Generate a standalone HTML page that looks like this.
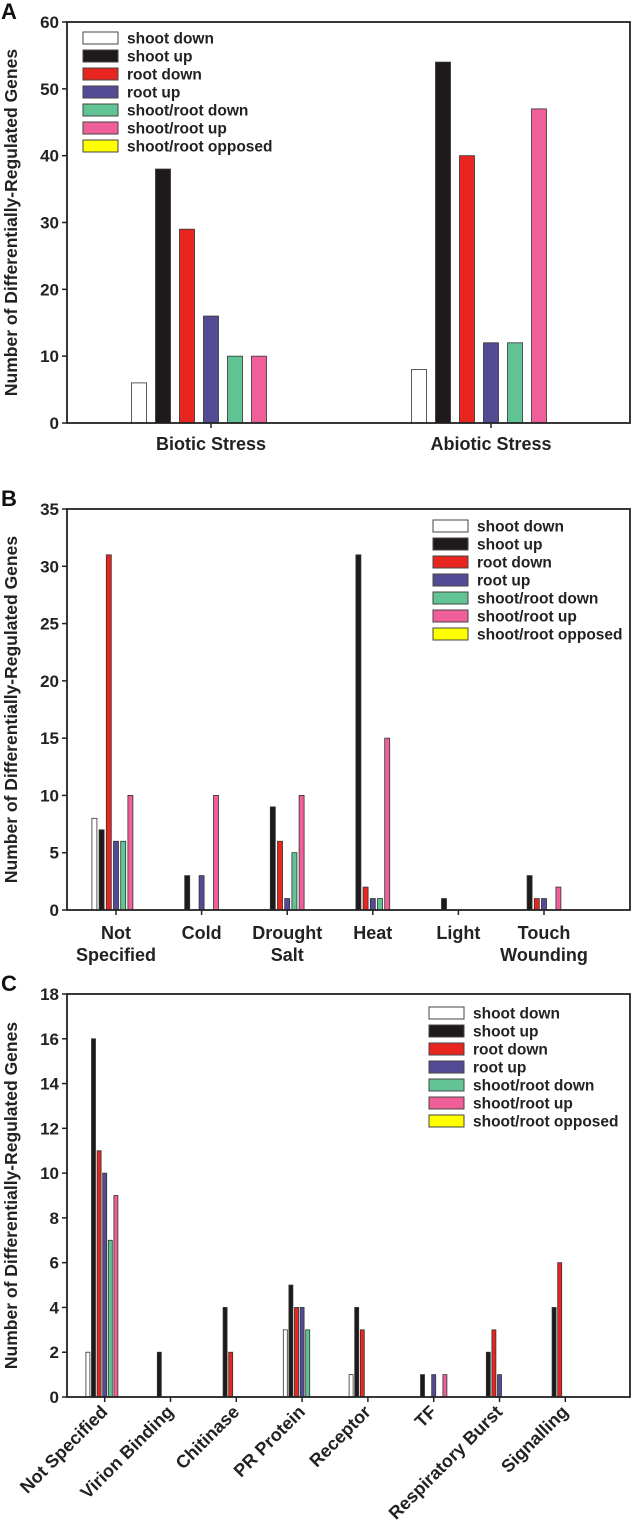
<!DOCTYPE html>
<html><head><meta charset="utf-8"><style>
body{margin:0;background:#fff;}
svg{display:block;font-family:"Liberation Sans",Arial,sans-serif;}
</style></head><body>
<svg id="fig" width="636" height="1533" viewBox="0 0 636 1533"></svg>
<script>
const seriesNames=["shoot down","shoot up","root down","root up","shoot/root down","shoot/root up","shoot/root opposed"];
const seriesColors=["#ffffff","#1e1a1a","#e8261f","#534b94","#62c495","#f05f9a","#ffff00"];
// Panel A
const catsA=["Biotic Stress","Abiotic Stress"];
const valsA=[[6,8],[38,54],[29,40],[16,12],[10,12],[10,47],[0,0]];
const ticksA=[0,10,20,30,40,50,60];
// Panel B
const catsB=[["Not","Specified"],["Cold"],["Drought","Salt"],["Heat"],["Light"],["Touch","Wounding"]];
const valsB=[[8,0,0,0,0,0],[7,3,9,31,1,3],[31,0,6,2,0,1],[6,3,1,1,0,1],[6,0,5,1,0,0],[10,10,10,15,0,2],[0,0,0,0,0,0]];
const ticksB=[0,5,10,15,20,25,30,35];
// Panel C
const catsC=["Not Specified","Virion Binding","Chitinase","PR Protein","Receptor","TF","Respiratory Burst","Signalling"];
const valsC=[[2,0,0,3,1,0,0,0],[16,2,4,5,4,1,2,4],[11,0,2,4,3,0,3,6],[10,0,0,4,0,1,1,0],[7,0,0,3,0,0,0,0],[9,0,0,0,0,1,0,0],[0,0,0,0,0,0,0,0]];
const ticksC=[0,2,4,6,8,10,12,14,16,18];

const svg=document.getElementById('fig');
const NS="http://www.w3.org/2000/svg";
function mk(tag,attrs,parent){const e=document.createElementNS(NS,tag);for(const k in attrs)e.setAttribute(k,attrs[k]);(parent||svg).appendChild(e);return e;}

function panel(o){
  const g=mk('g',{});
  
  
  const y=v=>o.y0-(v/o.ymax)*(o.y0-o.ytop);
  const cx=i=>o.c0+i*o.cs;
  const L=mk('text',{x:1,y:o.ytop-3,'font-size':22,'font-weight':'bold',fill:'#111'},g);L.textContent=o.id;
  
  
  for(let s=0;s<o.vals.length;s++){
    for(let c=0;c<o.cats.length;c++){
      const v=o.vals[s][c]; if(v<=0) continue;
      const x=cx(c)+(s-3)*o.bs-o.bw/2;
      const r=mk('rect',{x:x,y:y(v),width:o.bw,height:y(0)-y(v),fill:seriesColors[s],stroke:'#333','stroke-width':0.8},g);
      
      
    }
  }
  const f=mk('rect',{x:o.xl,y:o.ytop,width:o.xr-o.xl,height:o.y0-o.ytop,fill:'none',stroke:'#222','stroke-width':1.8},g);
  
  
  o.ticks.forEach(t=>{
    mk('line',{x1:o.xl-5,x2:o.xl,y1:y(t),y2:y(t),stroke:'#222','stroke-width':1.5},g);
    const tx=mk('text',{x:o.xl-8,y:y(t)+6,'text-anchor':'end','font-size':17,'font-weight':'bold',fill:'#222'},g);tx.textContent=t;
    
    
  });
  o.cats.forEach((c,i)=>{
    mk('line',{x1:cx(i),x2:cx(i),y1:o.y0,y2:o.y0+5,stroke:'#222','stroke-width':1.5},g);
    if(o.rot){
      const tx=mk('text',{x:cx(i)+4,y:o.y0+16,'text-anchor':'end','font-size':18,'font-weight':'bold',fill:'#222',transform:`rotate(-45 ${cx(i)+4} ${o.y0+16})`},g);tx.textContent=c;
      
      
    }else{
      const lines=Array.isArray(c)?c:[c];
      lines.forEach((ln,k)=>{
        const tx=mk('text',{x:cx(i),y:o.y0+o.labDy+k*22,'text-anchor':'middle','font-size':18,'font-weight':'bold',fill:'#222'},g);tx.textContent=ln;
        
        
      });
    }
  });
  const ym=(o.ytop+o.y0)/2;
  const yt=mk('text',{x:17,y:ym,'text-anchor':'middle','font-size':17.5,fill:'#222','font-weight':'bold',transform:`rotate(-90 17 ${ym})`},g);
  yt.textContent='Number of Differentially-Regulated Genes';
  
  
  seriesNames.forEach((n,i)=>{
    const ly=o.legY+i*18;
    const b=mk('rect',{x:o.legX,y:ly-6,width:35,height:12,fill:seriesColors[i],stroke:'#444','stroke-width':1},g);
    
    
    const t=mk('text',{x:o.legX+44,y:ly+5.5,'font-size':15.5,'font-weight':'bold',fill:'#222'},g);t.textContent=n;
    
    
  });
}
panel({id:'A',cats:catsA,vals:valsA,ticks:ticksA,ymax:60,ytop:22,y0:423,xl:67,xr:630,c0:211,cs:280,bs:24,bw:15,legX:83,legY:38,labDy:27,rot:false});
panel({id:'B',cats:catsB,vals:valsB,ticks:ticksB,ymax:35,ytop:509,y0:910,xl:67,xr:630,c0:116,cs:85.6,bs:7.2,bw:5,legX:433,legY:526,labDy:29,rot:false});
panel({id:'C',cats:catsC,vals:valsC,ticks:ticksC,ymax:18,ytop:994,y0:1397,xl:67,xr:630,c0:104.7,cs:65.8,bs:5.6,bw:4,legX:429,legY:1013,labDy:0,rot:true});
</script>
</body></html>
